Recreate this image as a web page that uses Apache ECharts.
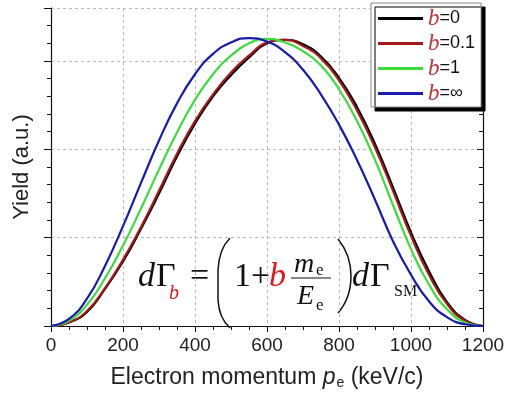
<!DOCTYPE html>
<html>
<head>
<meta charset="utf-8">
<script src="https://cdn.jsdelivr.net/npm/echarts@6/dist/echarts.min.js"></script>
<style>
  html, body { margin: 0; padding: 0; background: #fff; }
  #chart { width: 508px; height: 399px; }
</style>
</head>
<body>
<div id="chart"></div>
<script>
const momentum = [0, 50, 100, 150, 200, 250, 300, 350, 400, 450, 500, 550, 600,
  650, 700, 750, 800, 850, 900, 950, 1000, 1050, 1100, 1150, 1200];

const yieldB0 = [0, 0.04, 0.16, 0.42, 0.73, 1.1, 1.5, 1.92, 2.29, 2.6, 2.84, 3.04, 3.2,
  3.24, 3.19, 3.05, 2.81, 2.48, 2.06, 1.57, 1.06, 0.62, 0.27, 0.07, 0];
const yieldB01 = [0, 0.04, 0.17, 0.43, 0.75, 1.12, 1.53, 1.95, 2.32, 2.62, 2.87, 3.06, 3.21,
  3.24, 3.17, 3.03, 2.78, 2.44, 2.02, 1.53, 1.02, 0.58, 0.25, 0.06, 0];
const yieldB1 = [0, 0.06, 0.24, 0.54, 0.91, 1.33, 1.77, 2.19, 2.56, 2.85, 3.06, 3.2, 3.25,
  3.21, 3.11, 2.95, 2.68, 2.32, 1.88, 1.37, 0.87, 0.47, 0.19, 0.04, 0];
const yieldBinf = [0, 0.08, 0.31, 0.68, 1.13, 1.62, 2.1, 2.52, 2.85, 3.08, 3.21, 3.26, 3.22,
  3.1, 2.9, 2.62, 2.28, 1.88, 1.43, 0.96, 0.58, 0.28, 0.1, 0.02, 0];

const seriesNames = ["b=0", "b=0.1", "b=1", "b=\u221e"];
const seriesColors = ["#000000", "#a31818", "#3ddc3d", "#1a1ab0"];
const seriesData = [yieldB0, yieldB01, yieldB1, yieldBinf];

const xTicks = [0, 200, 400, 600, 800, 1000, 1200];

const SANS = "Liberation Sans, Arial, sans-serif";
const SERIF = "Liberation Serif, Times New Roman, serif";
const GRID_LINE = { lineStyle: { color: "#b8b8b8", type: [3, 3], width: 1 } };
const AXIS_LINE = { lineStyle: { color: "#111", width: 1.2 } };

function pairs(ys) {
  return momentum.map((x, i) => [x, ys[i]]);
}

function yAxisPart(position, interval, tickLen, inside, withLine, withSplit) {
  return {
    type: "value",
    position,
    min: 0,
    max: 3.6,
    interval,
    axisLine: { show: withLine, ...AXIS_LINE },
    axisTick: { show: true, length: tickLen, inside, lineStyle: { color: "#111" } },
    axisLabel: { show: false },
    splitLine: { show: withSplit, ...GRID_LINE },
  };
}

// x = left edge, y = baseline (roughly)
function txt(x, y, text, size, opts = {}) {
  return {
    type: "text",
    x,
    y: y - 0.33 * size,
    silent: true,
    style: {
      text,
      fill: opts.color || "#111",
      font: `${opts.italic ? "italic " : ""}${size}px ${opts.family || SERIF}`,
      verticalAlign: "middle",
      align: "left",
    },
  };
}

function curve(x1, y1, cx, cy, x2, y2) {
  return {
    type: "bezierCurve",
    silent: true,
    shape: { x1, y1, cpx1: cx, cpy1: cy, x2, y2 },
    style: { fill: null, stroke: "#111", lineWidth: 1.5 },
  };
}

function seg(x1, y1, x2, y2, w) {
  return {
    type: "line",
    silent: true,
    shape: { x1, y1, x2, y2 },
    style: { stroke: "#111", lineWidth: w },
  };
}

const RED = "#e0161c";

const formula = [
  txt(138, 288, "d", 34, { italic: true }),
  txt(156, 288, "\u0393", 34),
  txt(169, 300, "b", 20, { italic: true, color: RED }),
  txt(190, 288, "=", 34),
  curve(230, 238, 219, 249, 218, 270),
  seg(218, 270, 218, 300, 1.5),
  curve(218, 300, 219, 318, 230, 328),
  txt(234, 288, "1", 34),
  txt(251, 288, "+", 34),
  txt(269, 288, "b", 34, { italic: true, color: RED }),
  txt(294, 274, "m", 28, { italic: true }),
  txt(316, 276, "e", 17),
  seg(291, 278, 331, 278, 1.2),
  txt(297, 306, "E", 28, { italic: true }),
  txt(316, 311, "e", 17),
  curve(338, 239, 351, 255, 351, 276),
  curve(351, 276, 351, 298, 338, 313),
  txt(352, 288, "d", 34, { italic: true }),
  txt(370, 288, "\u0393", 34),
  txt(394, 297, "SM", 16),
];

const chart = echarts.init(document.getElementById("chart"), null, { renderer: "canvas" });

chart.setOption({
  animation: false,
  backgroundColor: "#ffffff",
  grid: { left: 51, right: 25, top: 8, bottom: 73 },
  legend: {
    data: seriesNames,
    orient: "vertical",
    left: 371,
    top: 3,
    padding: [4, 6, 2, 7],
    icon: "rect",
    itemWidth: 45,
    itemHeight: 3,
    itemGap: 2,
    backgroundColor: "#ffffff",
    borderColor: "#888",
    borderWidth: 1,
    shadowColor: "#000",
    shadowBlur: 0,
    shadowOffsetX: 4,
    shadowOffsetY: 4,
    formatter: (name) => `{i|b}{t|${name.slice(1)}}`,
    textStyle: {
      lineHeight: 20,
      rich: {
        i: { fontFamily: SERIF, fontStyle: "italic", fontSize: 23, lineHeight: 20, color: "#c0343a" },
        t: { fontFamily: SANS, fontSize: 18, lineHeight: 20, color: "#111" },
      },
    },
  },
  xAxis: [
    {
      type: "value",
      position: "bottom",
      min: xTicks[0],
      max: xTicks[xTicks.length - 1],
      interval: xTicks[1] - xTicks[0],
      axisLine: { show: true, ...AXIS_LINE },
      axisTick: { show: true, length: 6, inside: false, lineStyle: { color: "#111" } },
      minorTick: { show: true, splitNumber: 4, length: 4, lineStyle: { color: "#111" } },
      axisLabel: {
        color: "#222",
        fontFamily: SANS,
        fontSize: 19,
        margin: 10,
        formatter: (v) => String(v),
      },
      splitLine: { show: true, ...GRID_LINE },
      name: "{n|Electron momentum }{p|p}{s|e}{n| (keV/c)}",
      nameLocation: "middle",
      nameGap: 40,
      nameTextStyle: {
        rich: {
          n: { fontFamily: SANS, fontSize: 23, color: "#222" },
          p: { fontFamily: SANS, fontStyle: "italic", fontSize: 23, color: "#222" },
          s: { fontFamily: SANS, fontSize: 14, color: "#222", padding: [10, 0, 0, 1] },
        },
      },
    },
    {
      type: "value",
      position: "top",
      min: xTicks[0],
      max: xTicks[xTicks.length - 1],
      interval: xTicks[1] - xTicks[0],
      axisLine: { show: true, ...AXIS_LINE },
      axisTick: { show: true, length: 6, inside: true, lineStyle: { color: "#111" } },
      minorTick: { show: true, splitNumber: 4, length: 4, lineStyle: { color: "#111" } },
      axisLabel: { show: false },
      splitLine: { show: false },
    },
  ],
  yAxis: [
    Object.assign(yAxisPart("left", 1, 7, false, true, true), {
      name: "Yield (a.u.)",
      nameLocation: "middle",
      nameGap: 18,
      nameTextStyle: { fontFamily: SANS, fontSize: 22, color: "#222" },
    }),
    yAxisPart("left", 0.2, 4, false, false, false),
    yAxisPart("right", 1, 6, true, true, false),
    yAxisPart("right", 0.2, 4, true, false, false),
  ],
  series: seriesNames.map((name, k) => ({
    name,
    type: "line",
    xAxisIndex: 0,
    yAxisIndex: 0,
    data: pairs(seriesData[k]),
    smooth: 0.5,
    symbol: "none",
    lineStyle: { color: seriesColors[k], width: 2.2 },
    itemStyle: { color: seriesColors[k] },
    z: 3 + k,
  })),
  graphic: formula,
});
</script>
</body>
</html>
